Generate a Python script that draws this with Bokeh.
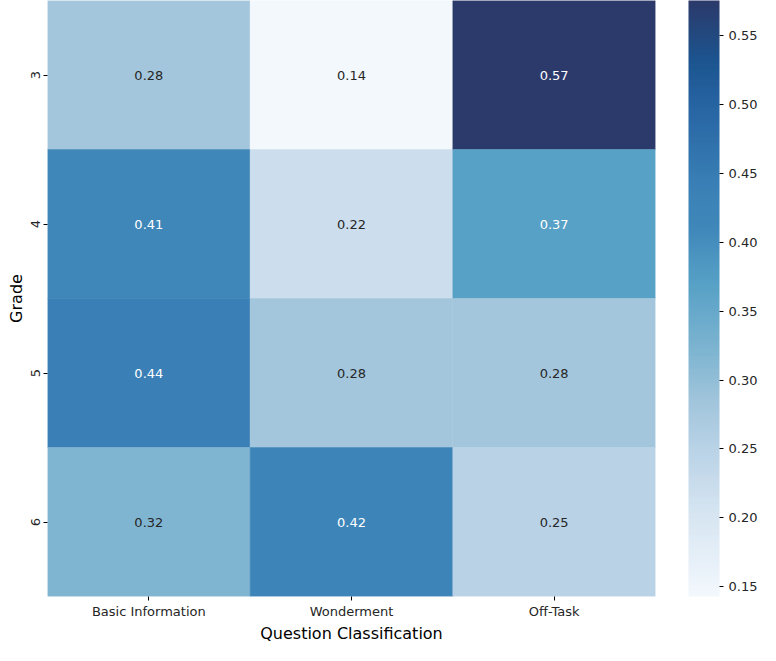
import numpy as np
from bokeh.plotting import figure
from bokeh.models import ColumnDataSource, LinearColorMapper, ColorBar, FixedTicker, PrintfTickFormatter, Title
from bokeh.transform import transform
from bokeh.embed import file_html
from bokeh.resources import INLINE
from bokeh.core.properties import value

# ---- data ----
classifications = ["Basic Information", "Wonderment", "Off-Task"]
grades = ["3", "4", "5", "6"]
basic_info = [0.28, 0.41, 0.44, 0.32]
wonderment = [0.143, 0.22, 0.28, 0.42]
off_task = [0.574, 0.37, 0.28, 0.25]
cbar_ticks = [0.15, 0.20, 0.25, 0.30, 0.35, 0.40, 0.45, 0.50, 0.55]

# ---- colour map (approximation of the reference gradient) ----
anchor_t = [0.0, 0.15, 0.25, 0.32, 0.41, 0.53, 0.62, 0.69, 0.82, 0.90, 1.0]
anchor_c = ["#f3f8fd", "#d3e3f0", "#b8d2e6", "#a3c6dc", "#7fb5d1", "#559fc6",
            "#3f87b9", "#3a80b6", "#2765a3", "#1c5590", "#2b3a6b"]

def hex2rgb(h):
    return [int(h[i:i + 2], 16) for i in (1, 3, 5)]

rgb = np.array([hex2rgb(c) for c in anchor_c], dtype=float)
ts = np.linspace(0, 1, 256)
palette = []
for t in ts:
    r = np.interp(t, anchor_t, rgb[:, 0])
    g = np.interp(t, anchor_t, rgb[:, 1])
    b = np.interp(t, anchor_t, rgb[:, 2])
    palette.append("#%02x%02x%02x" % (int(round(r)), int(round(g)), int(round(b))))

series = {"Basic Information": basic_info, "Wonderment": wonderment, "Off-Task": off_task}
xs, ys, vals, labels, tcolors = [], [], [], [], []
for cat in classifications:
    for g, v in zip(grades, series[cat]):
        xs.append(cat)
        ys.append(g)
        vals.append(v)
        labels.append("%.2f" % v)
        tcolors.append("#ffffff" if v > 0.35 else "#262626")

src = ColumnDataSource(dict(x=xs, y=ys, v=vals, label=labels, tc=tcolors))

vmin = 0.143
vmax = 0.5753
mapper = LinearColorMapper(palette=palette, low=vmin, high=vmax)

p = figure(x_range=classifications, y_range=list(reversed(grades)),
           width=760, height=645, output_backend="svg", toolbar_location=None,
           min_border_left=47, min_border_top=0, min_border_bottom=10, min_border_right=0)

p.rect(x="x", y="y", width=1, height=1, source=src,
       fill_color=transform("v", mapper), line_color=transform("v", mapper), line_width=0.5)
p.text(x="x", y="y", text="label", source=src, text_align="center", text_baseline="middle",
       text_color="tc", text_font=value("DejaVu Sans"), text_font_size="13px")

p.grid.visible = False
p.outline_line_color = None
p.background_fill_color = "white"
for ax in (p.xaxis, p.yaxis):
    ax.axis_line_color = None
    ax.major_tick_in = 0
    ax.major_tick_out = 4
    ax.major_tick_line_color = "#000000"
    ax.minor_tick_line_color = None
    ax.major_label_text_font = "DejaVu Sans"
    ax.major_label_text_font_size = "13px"
    ax.major_label_text_color = "#262626"
    ax.axis_label_text_font = "DejaVu Sans"
    ax.axis_label_text_font_size = "16px"
    ax.axis_label_text_font_style = "normal"
    ax.axis_label_text_color = "#000000"

p.xaxis.axis_label = "Question Classification"
p.yaxis.axis_label = "Grade"
p.yaxis.major_label_orientation = "vertical"
p.xaxis.major_label_standoff = 3
p.yaxis.major_label_standoff = 4
p.xaxis.axis_label_standoff = 2
p.yaxis.axis_label_standoff = 2

# blank spacer between heatmap and colour bar
p.add_layout(Title(text=" ", text_font_size="28px", standoff=0), "right")

cb = ColorBar(color_mapper=mapper, width=31, padding=0, margin=0,
              ticker=FixedTicker(ticks=cbar_ticks),
              formatter=PrintfTickFormatter(format="%.2f"),
              major_label_text_font="DejaVu Sans", major_label_text_font_size="13px",
              major_label_text_color="#262626",
              major_tick_in=0, major_tick_out=4, major_tick_line_color="#000000",
              minor_tick_line_color=None, bar_line_color=None,
              border_line_color=None, label_standoff=5)
p.add_layout(cb, "right")

open("out.html", "w").write(file_html(p, INLINE))
